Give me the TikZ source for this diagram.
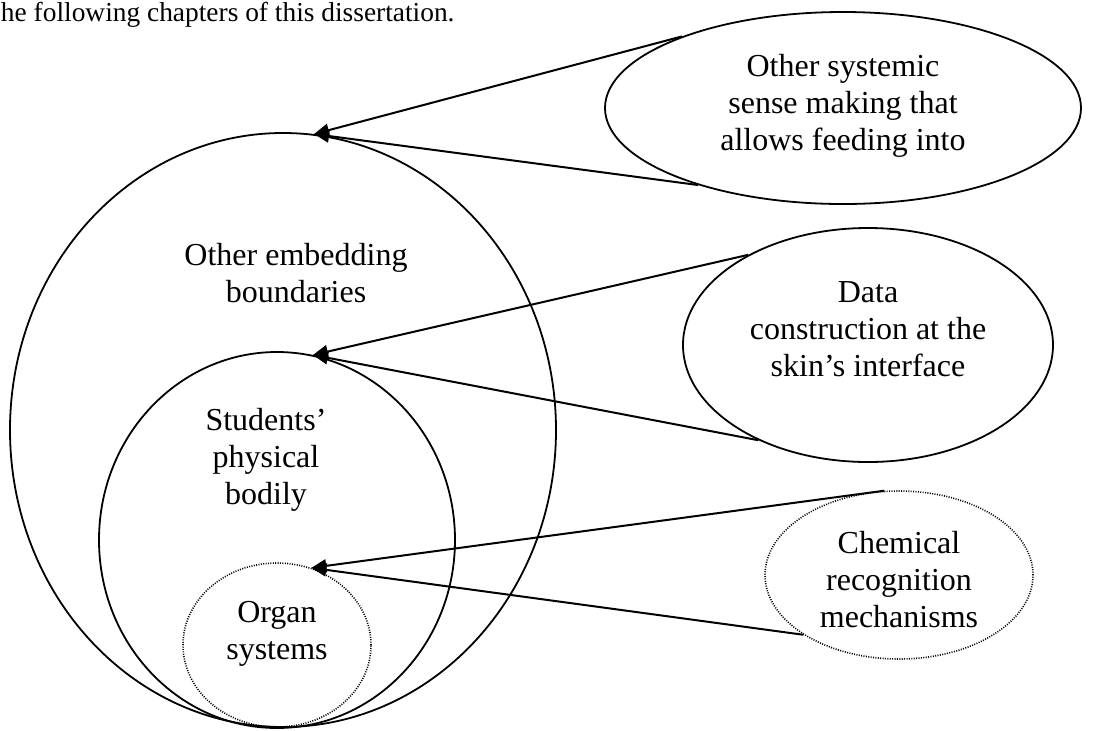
\documentclass[tikz,border=0pt]{standalone}
\usepackage{fontspec}
\setmainfont{Liberation Serif}
\usetikzlibrary{arrows.meta, shapes.geometric}
\tikzset{
  every picture/.style={line width=1pt},
  ring/.style={draw, ellipse, inner sep=0pt, line width=0.9pt},
  dotring/.style={ring, dash pattern=on 0.5pt off 0.7pt, line width=0.8pt},
  txt/.style={align=center, font=\fontsize{16}{18.5}\selectfont, inner sep=0pt},
  arrow/.style={-{Triangle[length=7.5pt, width=6.5pt]}, line width=1pt},
}

\begin{document}
\begin{tikzpicture}[x=0.5pt, y=-0.5pt]
  \useasboundingbox (0,0) rectangle (1099,730);
  % the line of running text above the figure
  \node[anchor=base west, inner sep=0pt, font=\fontsize{13.7}{16}\selectfont] (head) at (0,21) {he following chapters of this dissertation.};
  % left: the nested boundaries, all touching at the bottom
  \node[ring, minimum width=273pt, minimum height=297pt] (outer) at (283,430) {};
  \node[ring, minimum width=178pt, minimum height=188pt] (body) at (277,540) {};
  \node[dotring, minimum width=94pt, minimum height=82pt] (organ) at (277,645) {};
  \node[txt] (outertxt) at (296,273) {Other embedding\\boundaries};
  \node[txt] (bodytxt) at (266,460) {Students'\\physical\\bodily};
  \node[txt] (organtxt) at (277,634) {Organ\\systems};
  % right: what feeds into each boundary
  \node[ring, minimum width=238pt, minimum height=96pt] (sys) at (843,108) {};
  \node[ring, minimum width=185pt, minimum height=117pt] (data) at (868,345) {};
  \node[dotring, minimum width=134pt, minimum height=84pt] (chem) at (899,575) {};
  \node[txt] (systxt) at (843,106) {Other systemic\\sense making that\\allows feeding into};
  \node[txt] (datatxt) at (868,329) {Data\\construction at the\\skin's interface};
  \node[txt] (chemtxt) at (899,580) {Chemical\\recognition\\mechanisms};
  % arrows, two from each right ellipse to the top of its boundary
  \draw[arrow] (sys.156.8) -- (outer.84.8);
  \draw[arrow] (sys.208.8) -- (outer.84.8);
  \draw[arrow] (data.143.3) -- (body.79.4);
  \draw[arrow] (data.221.4) -- (body.79.4);
  \draw[arrow] (chem.100.8) -- (organ.66.3);
  \draw[arrow] (chem.212) -- (organ.66.3);
\end{tikzpicture}
\end{document}
